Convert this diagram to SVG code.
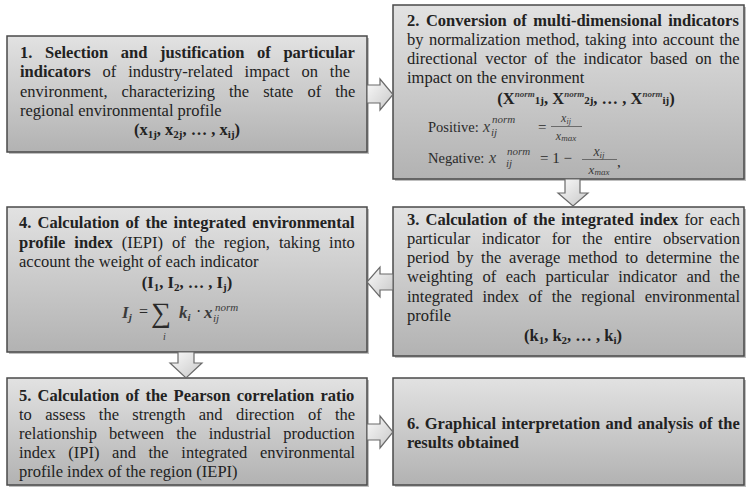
<svg xmlns="http://www.w3.org/2000/svg" width="746" height="487" viewBox="0 0 746 487">
<defs>
<linearGradient id="boxg" x1="0" y1="0" x2="0" y2="1">
<stop offset="0" stop-color="#e2e2e2"/>
<stop offset="1" stop-color="#b2b2b2"/>
</linearGradient>
<linearGradient id="arrg" x1="0" y1="0" x2="1" y2="1">
<stop offset="0" stop-color="#fafafa"/>
<stop offset="1" stop-color="#c8c8c8"/>
</linearGradient>
<style>
.box{fill:url(#boxg);stroke:#4a4a4a;stroke-width:1.5}
.sh{fill:#8a8a8a;opacity:0.55}
.t{font-family:"Liberation Serif","Times New Roman",serif;font-size:16.5px;fill:#222}
.b{font-weight:bold}
.f{font-family:"Liberation Serif","Times New Roman",serif;fill:#2a2a2a}
.m{font-family:"Liberation Serif","Times New Roman",serif;font-style:italic;fill:#3a3a3a}
.arr{fill:url(#arrg);stroke:#6a6a6a;stroke-width:1.2}
</style>
</defs>
<rect width="746" height="487" fill="#ffffff"/>

<g id="node1">
<rect class="sh" x="9" y="38" width="360" height="116"/>
<rect class="box" x="7" y="36" width="360" height="116"/>
<text class="t b" x="20" y="58" style="word-spacing:8.5px">1. Selection and justification of particular</text>
<text class="t" x="20" y="77" style="word-spacing:7.8px"><tspan class="b">indicators</tspan> of industry-related impact on the</text>
<text class="t" x="20" y="97" style="word-spacing:9.9px">environment, characterizing the state of the</text>
<text class="t" x="20" y="116">regional environmental profile</text>
<text class="t b" x="187" y="135" text-anchor="middle">(x<tspan font-size="11" dy="3">1j</tspan><tspan dy="-3">, x</tspan><tspan font-size="11" dy="3">2j</tspan><tspan dy="-3">, … , x</tspan><tspan font-size="11" dy="3">ij</tspan><tspan dy="-3">)</tspan></text>
</g>

<g id="node2">
<rect class="sh" x="395" y="7" width="351" height="174"/>
<rect class="box" x="393" y="5" width="351" height="174"/>
<text class="t b" x="407" y="26" style="word-spacing:2.4px">2. Conversion of multi-dimensional indicators</text>
<text class="t" x="407" y="45" style="word-spacing:1.3px">by normalization method, taking into account the</text>
<text class="t" x="407" y="64" style="word-spacing:3.6px">directional vector of the indicator based on the</text>
<text class="t" x="407" y="83">impact on the environment</text>
<text class="t b" x="586" y="104" text-anchor="middle">(X<tspan class="m" font-size="9" dy="-7">norm</tspan><tspan font-size="11" dy="7">1j</tspan>, X<tspan class="m" font-size="9" dy="-7">norm</tspan><tspan font-size="11" dy="7">2j</tspan>, … , X<tspan class="m" font-size="9" dy="-7">norm</tspan><tspan font-size="11" dy="7">ij</tspan>)</text>
<text class="f" x="428" y="132" font-size="14.5">Positive:</text>
<text class="m" x="483" y="132" font-size="16">x</text>
<text class="m" x="492" y="123" font-size="11">norm</text>
<text class="m" x="491" y="136" font-size="11">ij</text>
<text class="f" x="538" y="132" font-size="15">=</text>
<text class="m" x="566" y="122" font-size="12" text-anchor="middle">x<tspan font-size="8" dy="2">ij</tspan></text>
<line x1="551" y1="126.5" x2="582" y2="126.5" stroke="#555" stroke-width="0.8"/>
<text class="m" x="566" y="140" font-size="12" text-anchor="middle">x<tspan font-size="9" dy="1">max</tspan></text>
<text class="f" x="428" y="163" font-size="14.5">Negative:</text>
<text class="m" x="489" y="163" font-size="16">x</text>
<text class="m" x="507" y="155" font-size="11">norm</text>
<text class="m" x="506" y="167" font-size="11">ij</text>
<text class="f" x="540" y="163" font-size="15">= 1 −</text>
<text class="m" x="599" y="156" font-size="14" text-anchor="middle">x<tspan font-size="9" dy="2">ij</tspan></text>
<line x1="582" y1="159.5" x2="617" y2="159.5" stroke="#555" stroke-width="0.8"/>
<text class="m" x="599" y="174" font-size="13" text-anchor="middle">x<tspan font-size="9" dy="1">max</tspan></text>
<text class="f" x="617" y="167" font-size="15">,</text>
</g>

<g id="node3">
<rect class="sh" x="395" y="209" width="351" height="149"/>
<rect class="box" x="393" y="207" width="351" height="149"/>
<text class="t" x="407" y="225" style="word-spacing:2px"><tspan class="b">3. Calculation of the integrated index</tspan> for each</text>
<text class="t" x="407" y="244" style="word-spacing:7.3px">particular indicator for the entire observation</text>
<text class="t" x="407" y="263" style="word-spacing:3.6px">period by the average method to determine the</text>
<text class="t" x="407" y="282" style="word-spacing:5.4px">weighting of each particular indicator and the</text>
<text class="t" x="407" y="302" style="word-spacing:5.3px">integrated index of the regional environmental</text>
<text class="t" x="407" y="321">profile</text>
<text class="t b" x="573" y="341" text-anchor="middle">(k<tspan font-size="11" dy="3">1</tspan><tspan dy="-3">, k</tspan><tspan font-size="11" dy="3">2</tspan><tspan dy="-3">, … , k</tspan><tspan font-size="11" dy="3">i</tspan><tspan dy="-3">)</tspan></text>
</g>

<g id="node4">
<rect class="sh" x="9" y="209" width="360" height="145"/>
<rect class="box" x="7" y="207" width="360" height="145"/>
<text class="t b" x="19" y="228" style="word-spacing:2.1px">4. Calculation of the integrated environmental</text>
<text class="t" x="19" y="248" style="word-spacing:4.8px"><tspan class="b">profile index</tspan> (IEPI) of the region, taking into</text>
<text class="t" x="19" y="267">account the weight of each indicator</text>
<text class="t b" x="187" y="288" text-anchor="middle">(I<tspan font-size="11" dy="3">1</tspan><tspan dy="-3">, I</tspan><tspan font-size="11" dy="3">2</tspan><tspan dy="-3">, … , I</tspan><tspan font-size="11" dy="3">j</tspan><tspan dy="-3">)</tspan></text>
<text class="m b" x="122" y="318" font-size="17">I<tspan font-size="11" dy="3">j</tspan></text>
<text class="f" x="139" y="317" font-size="16">=</text>
<text class="f" x="151" y="322" font-size="28">∑</text>
<text class="m" x="163" y="340" font-size="10">i</text>
<text class="m b" x="179" y="318" font-size="17">k<tspan font-size="11" dy="3">i</tspan></text>
<text class="f" x="196" y="317" font-size="16">·</text>
<text class="m b" x="204" y="318" font-size="17">x</text>
<text class="m" x="215" y="311" font-size="11">norm</text>
<text class="m" x="213" y="322" font-size="11">ij</text>
</g>

<g id="node5">
<rect class="sh" x="9" y="380" width="360" height="107"/>
<rect class="box" x="7" y="378" width="360" height="107"/>
<text class="t b" x="19" y="401" style="word-spacing:2.1px">5. Calculation of the Pearson correlation ratio</text>
<text class="t" x="19" y="420" style="word-spacing:9.2px">to assess the strength and direction of the</text>
<text class="t" x="19" y="439" style="word-spacing:8.1px">relationship between the industrial production</text>
<text class="t" x="19" y="458" style="word-spacing:8.5px">index (IPI) and the integrated environmental</text>
<text class="t" x="19" y="477">profile index of the region (IEPI)</text>
</g>

<g id="node6">
<rect class="sh" x="395" y="380" width="351" height="107"/>
<rect class="box" x="393" y="378" width="351" height="107"/>
<text class="t b" x="407" y="429" style="word-spacing:1.2px">6. Graphical interpretation and analysis of the</text>
<text class="t b" x="407" y="448">results obtained</text>
</g>

<g id="connectors">
<path class="arr" d="M367,85 H380 V79 L393,94.5 L380,110 V103 H367 Z"/>
<path class="arr" d="M565,179 V193 H558 L573,206 L588,193 H580 V179 Z"/>
<path class="arr" d="M393,274 H380 V267 L367,282 L380,297 V290 H393 Z"/>
<path class="arr" d="M178,352 V363 H170 L186,378 L202,363 H194 V352 Z"/>
<path class="arr" d="M367,424 H380 V416 L393,432 L380,448 V440 H367 Z"/>
</g>
</svg>
